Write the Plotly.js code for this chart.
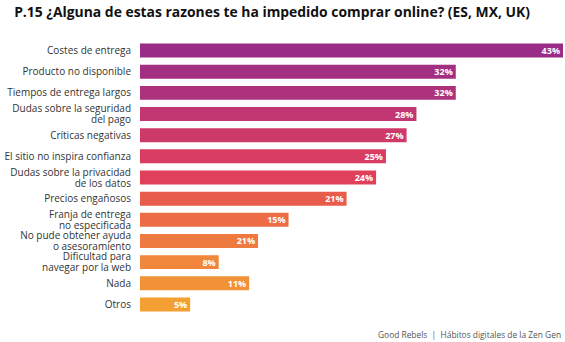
<!DOCTYPE html>
<html>
<head>
<meta charset="utf-8">
<script src="https://cdn.plot.ly/plotly-3.0.1.min.js"></script>
<style>html,body{margin:0;padding:0;background:#fff;}#chart{width:565px;height:342px;}</style>
</head>
<body>
<div id="chart"></div>
<script>
const categories = [
  "Costes de entrega",
  "Producto no disponible",
  "Tiempos de entrega largos",
  "Dudas sobre la seguridad<br>del pago",
  "Críticas negativas",
  "El sitio no inspira confianza",
  "Dudas sobre la privacidad<br>de los datos",
  "Precios engañosos",
  "Franja de entrega<br>no especificada",
  "No pude obtener ayuda<br>o asesoramiento",
  "Dificultad para<br>navegar por la web",
  "Nada",
  "Otros"
];
const values = [43, 32.1, 32.1, 28.1, 27.1, 25, 24, 21, 15.1, 12, 8, 11.1, 5.1];
const valueLabels = ["43%", "32%", "32%", "28%", "27%", "25%", "24%", "21%", "15%", "21%", "8%", "11%", "5%"];
const barColors = ["#982c87", "#a22f82", "#ad327c", "#c23771", "#cd3a69", "#d93d61", "#e04059", "#e85c4b", "#ed6c45", "#ef7a40", "#f0873a", "#f19236", "#f39f31"];

const trace = {
  type: "bar",
  orientation: "h",
  y: categories,
  x: values,
  text: valueLabels,
  texttemplate: "%{text}",
  textposition: "inside",
  insidetextanchor: "end",
  constraintext: "none",
  textfont: {family: "Open Sans, sans-serif", size: 9, color: "#ffffff", weight: "bold"},
  marker: {color: barColors, line: {width: 0}},
  hoverinfo: "none",
  cliponaxis: false
};

const layout = {
  width: 565, height: 342,
  margin: {l: 140, r: 2, t: 40, b: 27},
  paper_bgcolor: "#ffffff", plot_bgcolor: "#ffffff",
  showlegend: false,
  bargap: 0.34,
  font: {family: "Open Sans, sans-serif", color: "#333333"},
  title: {text: "<b>P.15 ¿Alguna de estas razones te ha impedido comprar online? (ES, MX, UK)</b>",
    x: 0.025, xanchor: "left", y: 0.965, yanchor: "middle", font: {size: 13.9, color: "#111111", family: "Open Sans, sans-serif"}},
  xaxis: {range: [0, 43], visible: false, fixedrange: true},
  yaxis: {autorange: "reversed", showline: false, showgrid: false, zeroline: false, ticks: "",
    ticklabelstandoff: 8, tickfont: {size: 10, color: "#333333"}},
  annotations: [{
    text: "Good Rebels  |  Hábitos digitales de la Zen Gen",
    xref: "paper", yref: "paper", x: 1, y: -0.07, xanchor: "right", yanchor: "middle",
    showarrow: false, font: {size: 8.4, color: "#555555"}
  }]
};

Plotly.newPlot("chart", [trace], layout, {displayModeBar: false, staticPlot: true}).then(function (gd) {
  // tighten line spacing of two-line category labels
  gd.querySelectorAll(".ytick text").forEach(function (t) {
    const lines = t.querySelectorAll("tspan.line");
    if (lines.length > 1) {
      lines.forEach(function (ln, i) { if (i > 0) ln.setAttribute("dy", "1.1em"); });
      const tr = t.getAttribute("transform") || "";
      t.setAttribute("transform", tr + " translate(0,1)");
    }
  });
});
</script>
</body>
</html>
